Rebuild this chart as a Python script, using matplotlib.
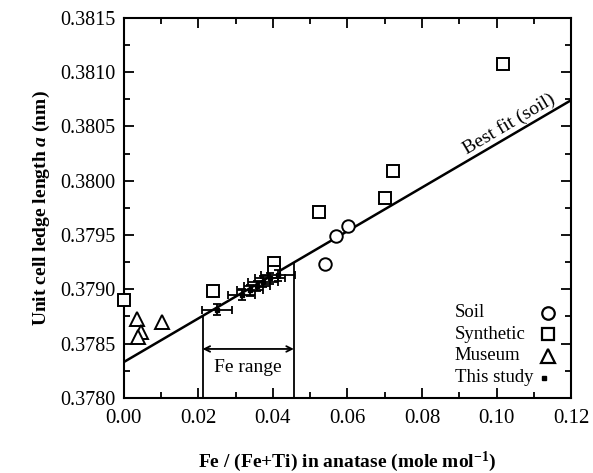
import numpy as np
import matplotlib
matplotlib.use("Agg")
import matplotlib.pyplot as plt
from matplotlib.ticker import MultipleLocator, FormatStrFormatter

plt.rcParams['font.family'] = ['Liberation Serif', 'DejaVu Serif']
plt.rcParams['mathtext.fontset'] = 'custom'
plt.rcParams['mathtext.rm'] = 'Liberation Serif:bold'
plt.rcParams['mathtext.it'] = 'Liberation Serif:italic:bold'
plt.rcParams['mathtext.bf'] = 'Liberation Serif:bold'

# soil samples
soil_x = [0.0540, 0.0569, 0.0602]
soil_a = [0.37923, 0.37949, 0.37958]

# synthetic samples
syn_x = [0.000, 0.024, 0.0403, 0.0403, 0.0524, 0.0701, 0.0723, 0.1016]
syn_a = [0.37890, 0.37898, 0.37924, 0.37916, 0.37971, 0.37984, 0.38009, 0.38108]

# museum samples
mus_x = [0.0036, 0.0045, 0.0038, 0.0101]
mus_a = [0.37873, 0.37861, 0.37856, 0.37870]

# this study, with error bars
ts_x = [0.0249, 0.0316, 0.0338, 0.0356, 0.0374, 0.0392, 0.0414]
ts_a = [0.37881, 0.37895, 0.37899, 0.37903, 0.37907, 0.37910, 0.37913]
ts_xerr = [0.0040, 0.0036, 0.0035, 0.0035, 0.0040, 0.0040, 0.0045]
ts_aerr = [0.00005, 0.00005, 0.00005, 0.00005, 0.00005, 0.00005, 0.00005]

# best fit (soil)
fit_b = 0.37833
fit_m = 0.0201

fe_range = [0.0211, 0.0456]

legend_labels = ['Soil', 'Synthetic', 'Museum', 'This study']
legend_marks = ['o', 's', '^', 's']

fig = plt.figure(figsize=(5.93, 4.73), dpi=100)
ax = fig.add_axes([0.209, 0.159, 0.754, 0.803])

fx = np.array([0.0, 0.12])
ax.plot(fx, fit_b + fit_m * fx, color='black', lw=1.8, zorder=2)

mk = dict(linestyle='none', markerfacecolor='white', markeredgecolor='black',
          markeredgewidth=1.4, zorder=3, clip_on=False)
ax.plot(soil_x, soil_a, marker='o', markersize=9, **mk)
ax.plot(syn_x, syn_a, marker='s', markersize=9, **mk)
ax.plot(mus_x, mus_a, marker='^', markersize=10, **mk)
ax.errorbar(ts_x, ts_a, xerr=ts_xerr, yerr=ts_aerr, fmt='s', markersize=3,
            color='black', ecolor='black', elinewidth=1.3, capsize=3,
            capthick=1.3, zorder=4)

# Fe range marker
for xv in fe_range:
    ax.plot([xv, xv], [0.3780, fit_b + fit_m * xv], color='black', lw=1.3)
ax.annotate('', xy=(fe_range[0], 0.37845), xytext=(fe_range[1], 0.37845),
            arrowprops=dict(arrowstyle='<->', color='black', lw=1.3,
                            shrinkA=0, shrinkB=0))
ax.text(sum(fe_range) / 2, 0.37828, 'Fe range', ha='center', va='center',
        fontsize=14)

bx = 0.1045
ax.text(bx, fit_b + fit_m * bx + 0.00002, 'Best fit (soil)', rotation=30.5,
        ha='center', va='bottom', fontsize=14, rotation_mode='anchor')

# legend, drawn by hand: text left, marker right
rows_y = [0.224, 0.167, 0.111, 0.053]
for lab, m, yy in zip(legend_labels, legend_marks, rows_y):
    ax.text(0.740, yy, lab, transform=ax.transAxes, ha='left', va='center',
            fontsize=13.5)
    if lab == 'This study':
        ax.plot([0.940], [yy], marker=m, markersize=3, color='black',
                transform=ax.transAxes, linestyle='none')
    else:
        ax.plot([0.949], [yy], marker=m, markersize=9 if m != '^' else 10,
                markerfacecolor='white', markeredgecolor='black',
                markeredgewidth=1.6, transform=ax.transAxes, linestyle='none')

ax.set_xlim(0, 0.12)
ax.set_ylim(0.3780, 0.3815)
ax.xaxis.set_major_locator(MultipleLocator(0.02))
ax.xaxis.set_minor_locator(MultipleLocator(0.01))
ax.yaxis.set_major_locator(MultipleLocator(0.0005))
ax.yaxis.set_minor_locator(MultipleLocator(0.00025))
ax.xaxis.set_major_formatter(FormatStrFormatter('%.2f'))
ax.yaxis.set_major_formatter(FormatStrFormatter('%.4f'))
ax.tick_params(which='both', direction='in', top=True, right=True,
               width=1.3)
ax.tick_params(which='major', length=7)
ax.tick_params(which='minor', length=4)
ax.tick_params(axis='x', labelsize=15, pad=8)
ax.tick_params(axis='y', labelsize=14.5, pad=6)
for s in ax.spines.values():
    s.set_linewidth(1.5)

ax.set_xlabel('Fe / (Fe+Ti) in anatase (mole mol$^{-1}$)', fontsize=14,
              fontweight='bold', labelpad=16)
ax.set_ylabel('Unit cell ledge length $a$ (nm)', fontsize=14,
              fontweight='bold', labelpad=6)

fig.savefig('out.png', dpi=100)
